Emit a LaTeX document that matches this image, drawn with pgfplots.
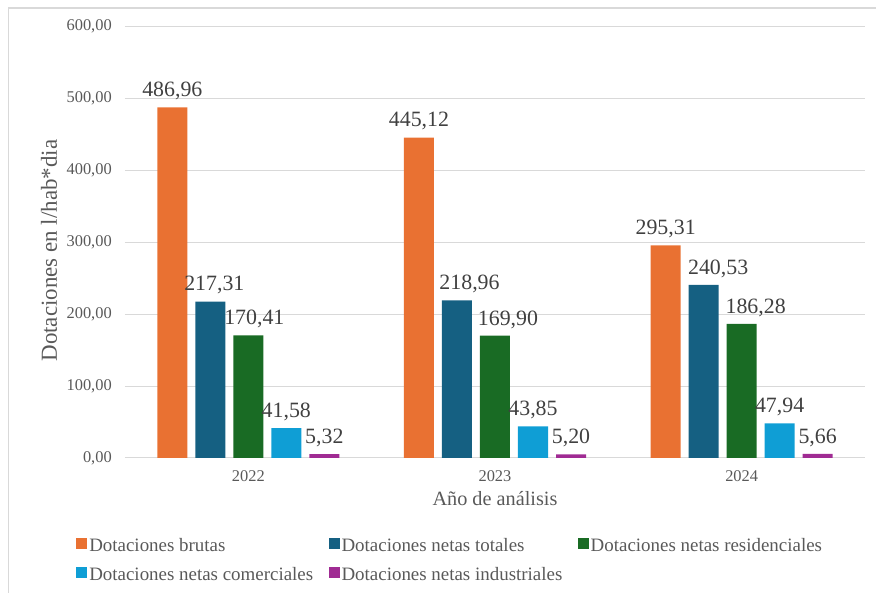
\documentclass[border=0pt]{standalone}
\usepackage{fontspec}
\setmainfont{Liberation Serif}
\usepackage{pgfplots}
\pgfplotsset{compat=1.18}
\usepackage{pgfplotstable}

\definecolor{cOr}{HTML}{E97132}
\definecolor{cBl}{HTML}{156082}
\definecolor{cGr}{HTML}{196B24}
\definecolor{cLb}{HTML}{0F9ED5}
\definecolor{cPu}{HTML}{A02B93}
\definecolor{gridc}{HTML}{D9D9D9}
\definecolor{txt}{HTML}{595959}
\definecolor{lbl}{HTML}{404040}

\pgfplotstableread{
x y dx
0 486.96 0
1 445.12 0
2 295.31 0
}\brutas
\pgfplotstableread{
x y dx
0 217.31 3
1 218.96 9.4
2 240.53 10.9
}\totales
\pgfplotstableread{
x y dx
0 170.41 4.5
1 169.90 9.75
2 186.28 10.5
}\residenciales
\pgfplotstableread{
x y dx
0 41.58 0
1 43.85 0
2 47.94 0
}\comerciales
\pgfplotstableread{
x y dx
0 5.32 0
1 5.20 0
2 5.66 0
}\industriales

\begin{document}
\begin{tikzpicture}
\useasboundingbox (0,0) rectangle (657pt,444.75pt);
\draw[gridc, line width=0.8pt] (6.4pt,0) -- (6.4pt,438.75pt) -- (657pt,438.75pt);
\begin{axis}[
  at={(93.75pt,101.25pt)}, anchor=south west,
  scale only axis, width=555pt, height=324pt,
  xmin=-0.5, xmax=2.5, ymin=0, ymax=600,
  ybar=6pt, bar width=22.5pt,
  xtick={0,1,2}, xticklabels={2022,2023,2024},
  ytick={0,100,200,300,400,500,600},
  axis line style={draw=none},
  ymajorgrids, grid style={gridc, line width=0.75pt},
  major tick length=0pt,
  tick label style={font=\fontsize{12.3}{14}\selectfont, text=txt},
  yticklabel style={inner xsep=0pt, xshift=-9.75pt},
  xticklabel style={inner ysep=0pt, yshift=-9pt},
  /pgf/number format/fixed,
  /pgf/number format/fixed zerofill,
  /pgf/number format/precision=2,
  /pgf/number format/use comma,
  /pgf/number format/1000 sep={},
  /pgf/number format/assume math mode=true,
  scaled y ticks=false,
  nodes near coords,
  every node near coord/.append style={font=\fontsize{16.4}{18}\selectfont, text=lbl, anchor=base, yshift=8pt, xshift=\dx pt},
  xlabel={Año de análisis},
  xlabel style={at={(axis description cs:0.5,-0.111)}, anchor=base, font=\fontsize{15.2}{18}\selectfont, text=txt},
  ylabel={Dotaciones en l/hab*dia},
  ylabel style={at={(axis description cs:-0.0919,0.48)}, anchor=base, font=\fontsize{17.2}{20}\selectfont, text=txt},
  legend columns=3,
  legend cell align=left,
  legend image code/.code={\fill[#1] (0pt,-1.5pt) rectangle (8.25pt,6.75pt);},
  legend style={at={(-0.0662,-0.1845)}, anchor=north west, draw=none, fill=none, inner sep=0pt,
    font=\fontsize{14.2}{17}\selectfont, text=txt,
    nodes={inner sep=0pt, text height=10pt, text depth=3pt},
    row sep=8.75pt,
    /tikz/every odd column/.append style={column sep=1.5pt},
    /tikz/every even column/.append style={column sep=11.5pt}},
]
\addplot[fill=cOr, draw=none, visualization depends on={\thisrow{dx}\as\dx}] table[x=x,y=y] {\brutas};
\addplot[fill=cBl, draw=none, visualization depends on={\thisrow{dx}\as\dx}] table[x=x,y=y] {\totales};
\addplot[fill=cGr, draw=none, visualization depends on={\thisrow{dx}\as\dx}] table[x=x,y=y] {\residenciales};
\addplot[fill=cLb, draw=none, visualization depends on={\thisrow{dx}\as\dx}] table[x=x,y=y] {\comerciales};
\addplot[fill=cPu, draw=none, visualization depends on={\thisrow{dx}\as\dx}] table[x=x,y=y] {\industriales};
\legend{Dotaciones brutas, Dotaciones netas totales, Dotaciones netas residenciales, Dotaciones netas comerciales, Dotaciones netas industriales}
\end{axis}
\end{tikzpicture}
\end{document}
